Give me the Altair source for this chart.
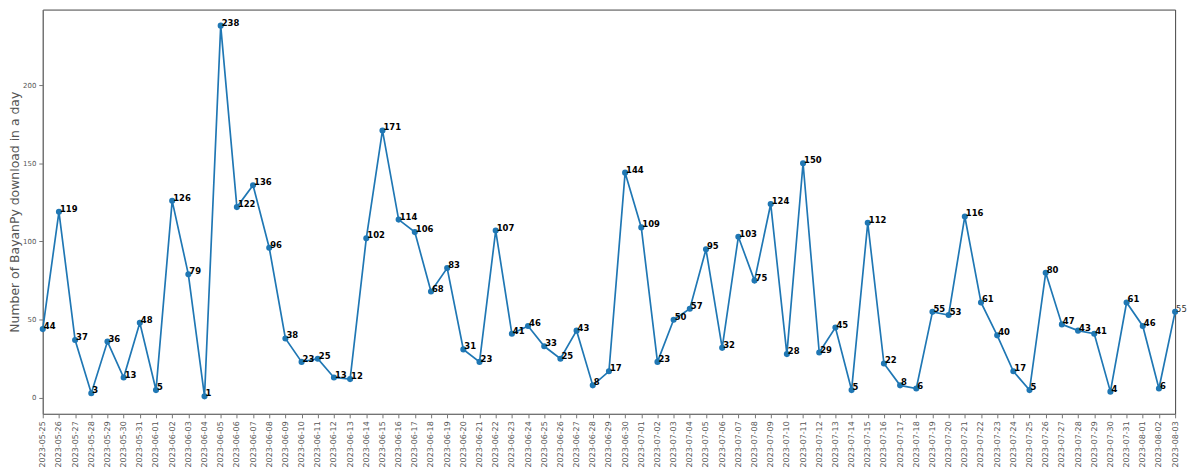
import altair as alt
import pandas as pd

dates = pd.date_range("2023-05-25", "2023-08-03", freq="D").strftime("%Y-%m-%d").tolist()
downloads = [44, 119, 37, 3, 36, 13, 48, 5, 126, 79, 1, 238, 122, 136, 96, 38, 23, 25, 13, 12,
             102, 171, 114, 106, 68, 83, 31, 23, 107, 41, 46, 33, 25, 43, 8, 17, 144, 109, 23, 50,
             57, 95, 32, 103, 75, 124, 28, 150, 29, 45, 5, 112, 22, 8, 6, 55, 53, 116, 61, 40,
             17, 5, 80, 47, 43, 41, 4, 61, 46, 6, 55]
y_ticks = [0, 50, 100, 150, 200]

df = pd.DataFrame({"date": dates, "downloads": downloads})

W, H = 1140, 407
x = alt.X("date:O", scale=alt.Scale(type="point", padding=0),
          axis=alt.Axis(title=None, labelAngle=270, labelFontSize=8, labelColor="#555",
                        labelFont="DejaVu Sans", tickSize=4, tickColor="#777",
                        domainColor="#777", labelPadding=3))
y = alt.Y("downloads:Q", scale=alt.Scale(domain=[-10.2, 248.3], nice=False, zero=False),
          axis=alt.Axis(title="Number of BayanPy download in a day", values=y_ticks,
                        grid=False, labelFontSize=7, labelColor="#555", labelFont="DejaVu Sans",
                        titleFontSize=12.5, titleColor="#555", titleFont="DejaVu Sans",
                        titleFontWeight="normal", titlePadding=1, tickSize=4,
                        tickColor="#777", domainColor="#777", labelPadding=3))

base = alt.Chart(df).encode(x=x, y=y)
line = base.mark_line(color="#1f77b4", strokeWidth=1.7)
pts = base.mark_circle(color="#1f77b4", size=38, opacity=1)
labels = base.transform_filter(alt.datum.date != "2023-08-03").mark_text(
    align="left", baseline="alphabetic", dx=1, fontSize=8.5, fontWeight="bold",
    font="DejaVu Sans", color="black").encode(text="downloads:Q")
last = base.transform_filter(alt.datum.date == "2023-08-03").mark_text(
    align="left", baseline="alphabetic", dx=1, fontSize=8.5, fontWeight="normal",
    font="DejaVu Sans", color="#333").encode(text="downloads:Q")

chart = alt.layer(line, pts, labels, last).properties(
    width=W, height=H,
    autosize=alt.AutoSizeParams(type="none"),
    padding={"left": 35, "top": 0, "right": 17, "bottom": 60},
).configure_view(stroke="#444", strokeWidth=1)

chart.save("out.html", embed_options={"renderer": "svg", "actions": False})
